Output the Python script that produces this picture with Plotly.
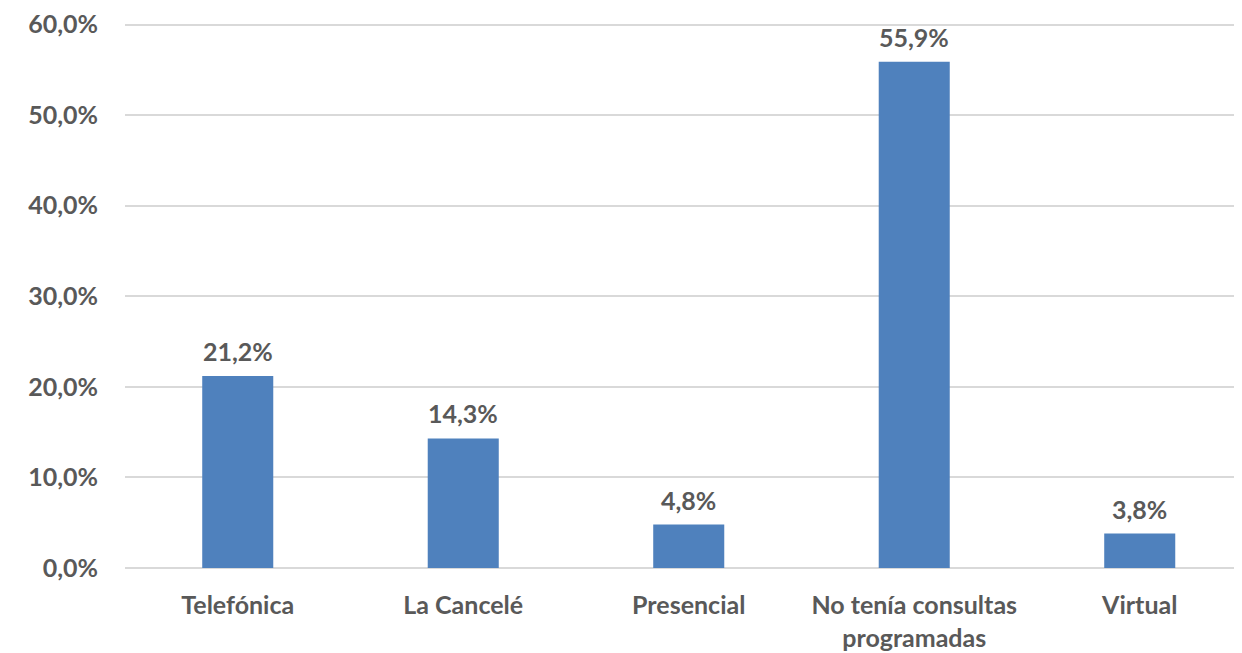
import plotly.graph_objects as go

categories = ["Telefónica", "La Cancelé", "Presencial", "No tenía consultas<br>programadas", "Virtual"]
values = [0.212, 0.143, 0.048, 0.559, 0.038]
y_ticks = [0, 0.1, 0.2, 0.3, 0.4, 0.5, 0.6]

gray = "#595959"
fnt = "Lato"
fs = 25

xs = list(range(len(categories)))

fig = go.Figure(go.Bar(
    x=xs,
    y=values,
    marker=dict(color="#4F81BD", line=dict(width=0)),
    width=0.315,
    hoverinfo="skip",
))

for x, v in zip(xs, values):
    fig.add_annotation(
        x=x, y=v, text=f"{v*100:.1f}%".replace(".", ","),
        showarrow=False, yanchor="bottom", yshift=8,
        font=dict(family=fnt, size=fs, color=gray, weight="bold"),
    )

fig.update_layout(
    width=1242, height=653,
    margin=dict(l=117, r=0, t=9, b=93),
    paper_bgcolor="white", plot_bgcolor="white",
    separators=",.",
    showlegend=False,
    font=dict(family=fnt, size=fs, color=gray),
)
fig.update_xaxes(
    tickmode="array",
    tickvals=xs,
    ticktext=categories,
    range=[-0.5, 4.489],
    showgrid=False, zeroline=False, showline=False,
    ticks="", ticklabelstandoff=20,
    tickfont=dict(family=fnt, size=fs, color=gray, weight="bold"),
)
fig.update_yaxes(
    range=[0, 0.605],
    tickvals=y_ticks,
    tickformat=".1%",
    showgrid=True, gridcolor="#d9d9d9", gridwidth=1.5,
    zeroline=True, zerolinecolor="#d9d9d9", zerolinewidth=1.5,
    showline=False, ticks="",
    ticklabelstandoff=26,
    ticklabeloverflow="allow",
    tickfont=dict(family=fnt, size=fs, color=gray, weight="bold"),
)

fig.write_html("out.html")
